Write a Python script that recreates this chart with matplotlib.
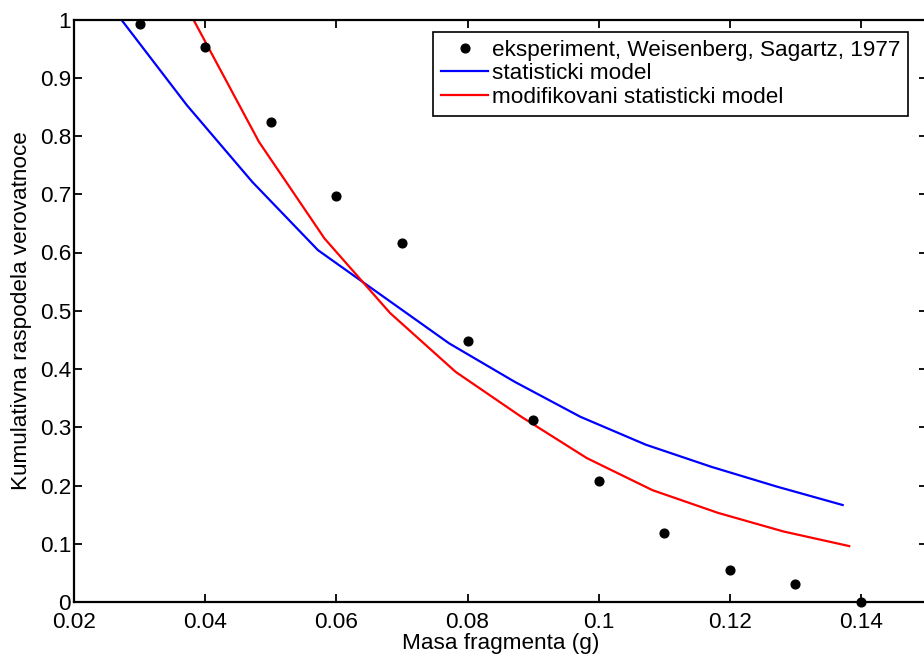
import matplotlib
matplotlib.use("Agg")
import matplotlib.pyplot as plt
from matplotlib.ticker import FuncFormatter

plt.rcParams['font.family'] = ['Liberation Sans', 'DejaVu Sans']

# Experimental data
exp_x = [0.03, 0.04, 0.05, 0.06, 0.07, 0.08, 0.09, 0.10, 0.11, 0.12, 0.13, 0.14]
exp_y = [0.992, 0.953, 0.824, 0.697, 0.616, 0.448, 0.312, 0.208, 0.118, 0.055, 0.031, 0.0]

# Statistical model
stat_x = [0.0272, 0.0372, 0.0472, 0.0572, 0.0672, 0.0772, 0.0872, 0.0972, 0.1072, 0.1172, 0.1272, 0.1372]
stat_y = [1.0, 0.853, 0.721, 0.604, 0.524, 0.444, 0.378, 0.318, 0.270, 0.232, 0.198, 0.1665]

# Modified statistical model
mod_x = [0.0382, 0.0482, 0.0582, 0.0682, 0.0782, 0.0882, 0.0982, 0.1082, 0.1182, 0.1282, 0.1382]
mod_y = [1.0, 0.790, 0.624, 0.496, 0.395, 0.318, 0.247, 0.192, 0.153, 0.121, 0.096]

x_ticks = [0.02, 0.04, 0.06, 0.08, 0.10, 0.12, 0.14]
y_ticks = [0, 0.1, 0.2, 0.3, 0.4, 0.5, 0.6, 0.7, 0.8, 0.9, 1.0]

FS = 16.2
W, H = 924, 659
fig = plt.figure(figsize=(W / 100, H / 100), dpi=100)
ax = fig.add_axes([74 / W, 57 / H, 852.6 / W, 582.5 / H])

ax.plot(exp_x, exp_y, 'o', color='black', markersize=6.3, linestyle='none',
        clip_on=False, zorder=5, label='eksperiment, Weisenberg, Sagartz, 1977')
ax.plot(stat_x, stat_y, color='#0000ff', linewidth=1.6, label='statisticki model')
ax.plot(mod_x, mod_y, color='#ff0000', linewidth=1.6, label='modifikovani statisticki model')

ax.set_xlim(0.02, 0.15)
ax.set_ylim(0, 1)
ax.set_xticks(x_ticks)
ax.set_yticks(y_ticks)
fmt = FuncFormatter(lambda v, p: '%g' % round(v, 4))
ax.xaxis.set_major_formatter(fmt)
ax.yaxis.set_major_formatter(fmt)
ax.tick_params(direction='in', length=6, width=1.3, top=True, right=True,
               labelsize=FS, colors='black')
ax.tick_params(axis='x', pad=7.5)
ax.tick_params(axis='y', pad=2)
for s in ax.spines.values():
    s.set_linewidth(1.6)

ax.set_xlabel('Masa fragmenta (g)', fontsize=FS, labelpad=0)
ax.set_ylabel('Kumulativna raspodela verovatnoce', fontsize=FS, labelpad=6)

leg = ax.legend(loc='upper right', bbox_to_anchor=(908 / W, 1 - 31.7 / H),
                bbox_transform=fig.transFigure, borderaxespad=0, fontsize=FS,
                handlelength=2.1, handletextpad=0.15, labelspacing=0.12,
                borderpad=0.35, fancybox=False, framealpha=1, numpoints=1)
leg.get_frame().set_edgecolor('black')
leg.get_frame().set_linewidth(1.2)

fig.savefig('out.png', dpi=100)
